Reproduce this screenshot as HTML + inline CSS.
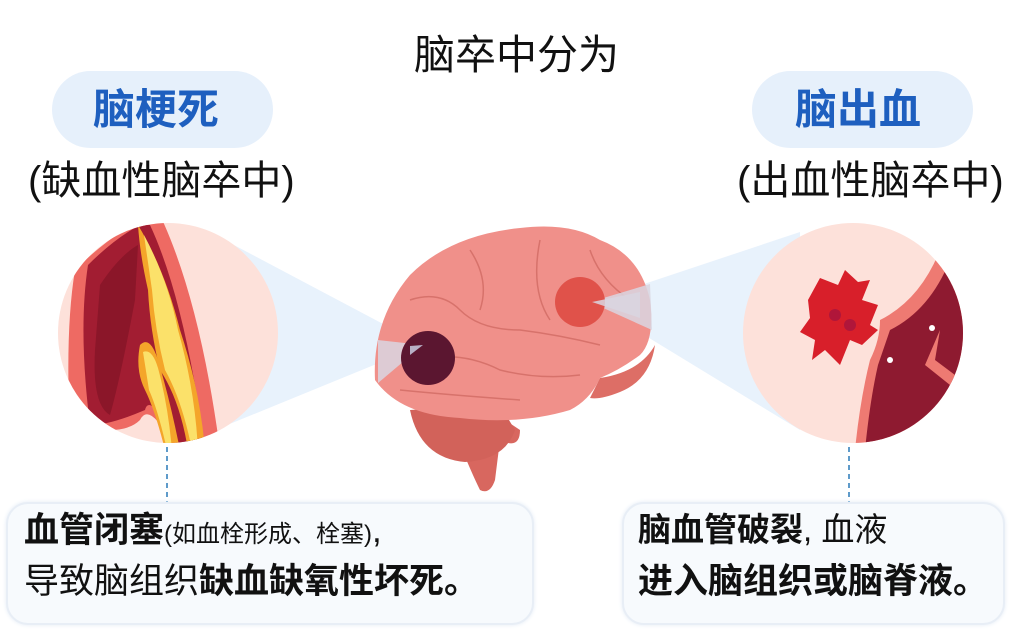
<!DOCTYPE html>
<html><head><meta charset="utf-8"><style>
html,body{margin:0;padding:0;background:#fff;}
body{width:1012px;height:636px;position:relative;overflow:hidden;font-family:"Liberation Sans","Noto Sans CJK SC",sans-serif;color:#111;}
.t{position:absolute;white-space:nowrap;line-height:1;}
.pill{position:absolute;background:#e6f0fb;border-radius:40px;}
.box{position:absolute;background:#f7fafd;border:2px solid #e8eef6;border-radius:22px;box-shadow:0 0 4px #e3ebf5;}
b{font-weight:700;}
</style></head><body>
<svg width="1012" height="636" style="position:absolute;left:0;top:0">
  <polygon points="215,235 423,345 215,430" fill="#e8f2fc"/>
  <polygon points="800,232 590,302 800,430" fill="#e8f2fc"/>
  <defs>
    <clipPath id="cl"><circle cx="168" cy="333" r="110"/></clipPath>
    <clipPath id="cr"><circle cx="853" cy="333" r="110"/></clipPath>
  </defs>
  <circle cx="168" cy="333" r="110" fill="#fde1da"/>
  <g clip-path="url(#cl)">
    <path d="M75,270 Q110,235 150,215 L160,215 Q200,300 220,450 L175,450 Q150,400 140,420 Q130,430 110,430 L70,430 Q65,330 75,270Z" fill="#ee6a63"/>
    <path d="M88,265 Q115,238 140,225 L150,225 Q185,300 205,450 L180,450 Q150,390 145,410 Q110,425 90,425 Q78,330 88,265Z" fill="#a21d32"/>
    <path d="M100,285 Q120,255 138,245 L135,300 Q120,380 110,415 Q92,405 95,350Z" fill="#8b1629"/>
    <path d="M138,225 Q165,270 180,330 Q200,390 205,450 L188,450 Q180,400 160,370 Q150,330 148,290 Q140,255 138,225Z" fill="#f4a52a"/>
    <path d="M144,235 Q168,280 178,330 Q195,390 198,450 L192,450 Q182,400 165,370 Q155,330 152,290Z" fill="#fbe16a"/>
    <path d="M140,345 Q150,335 158,360 Q170,400 180,450 L165,450 Q155,410 145,390 Q135,370 140,345Z" fill="#f4a52a"/>
    <path d="M143,352 Q152,348 158,368 Q168,405 172,450 L167,450 Q158,410 149,390Z" fill="#fbe16a"/>
  </g>
  <circle cx="853" cy="333" r="110" fill="#fde1da"/>
  <g clip-path="url(#cr)">
    <path d="M880,320 Q920,300 940,250 L970,250 L970,450 L855,450 Q860,400 870,360 Q880,340 880,320Z" fill="#ee7a72"/>
    <path d="M890,330 Q930,310 950,260 L970,260 L970,450 L865,450 Q870,400 878,365Z" fill="#8e1a30"/>
    <path d="M940,330 L935,360 L955,375 L970,360 L970,380 L950,385 L925,365Z" fill="#ee7a72"/>
  </g>
  <path d="M808,300 L820,278 L838,285 L845,270 L858,282 L870,280 L862,300 L878,305 L870,325 L878,330 L862,345 L850,340 L840,365 L825,350 L812,360 L815,340 L800,332 L810,318Z" fill="#d81f2a"/>
  <circle cx="835" cy="315" r="6" fill="#b0163a"/><circle cx="850" cy="325" r="6" fill="#b0163a"/>
  <circle cx="932" cy="328" r="3" fill="#fff"/><circle cx="890" cy="360" r="3" fill="#fff"/>
  <line x1="167" y1="447" x2="167" y2="502" stroke="#2a7ab8" stroke-width="1.5" stroke-dasharray="5,4"/>
  <line x1="849" y1="447" x2="849" y2="502" stroke="#2a7ab8" stroke-width="1.5" stroke-dasharray="5,4"/>
  <path d="M450,420 Q470,470 480,490 Q490,495 495,480 L500,440 Q520,450 520,430 L490,410Z" fill="#d8675f"/>
  <path d="M410,410 Q420,458 465,462 Q505,460 515,430 L500,405Z" fill="#d2625a"/>
  <path d="M375,380 Q372,320 410,275 Q450,235 520,228 Q570,222 600,240 Q640,255 650,300 Q655,340 640,355 Q620,370 600,378 Q590,400 570,410 Q520,425 460,418 Q400,415 375,380Z" fill="#f0908a"/>
  <path d="M600,378 Q640,372 655,345 Q650,380 620,392 Q600,400 590,398Z" fill="#dd6e66"/>
  <g fill="none" stroke="#d7726b" stroke-width="1.5">
    <path d="M410,300 Q440,290 460,310 Q480,330 520,330 Q560,335 600,345"/>
    <path d="M420,360 Q460,350 500,370 Q540,380 580,375"/>
    <path d="M470,250 Q490,280 480,310"/><path d="M540,240 Q530,290 550,320"/>
    <path d="M590,250 Q600,280 630,300"/><path d="M400,390 Q450,395 520,400"/>
  </g>
  <polygon points="378,340 423,345 378,383" fill="#d9d6e0" opacity="0.85"/>
  <circle cx="428" cy="358" r="27" fill="#5b1630"/>
  <polygon points="590,302 650,284 652,330" fill="#d9d6e0" opacity="0.85"/>
  <circle cx="580" cy="302" r="25" fill="#e0524a"/>
  <polygon points="592,302 640,292 640,318" fill="#d9d6e0" opacity="0.85"/>
  <polygon points="410,346 423,345 410,355" fill="#b8b0c6"/>
</svg>

<div class="t" style="left:414px;top:35px;font-size:41px;">脑卒中分为</div>
<div class="pill" style="left:52px;top:71px;width:221px;height:77px;"></div>
<div class="t" style="left:93px;top:89px;font-size:42px;font-weight:700;color:#1e5fbf;">脑梗死</div>
<div class="pill" style="left:752px;top:71px;width:221px;height:77px;"></div>
<div class="t" style="left:795px;top:89px;font-size:42px;font-weight:700;color:#1e5fbf;">脑出血</div>
<div class="t" style="left:28px;top:161px;font-size:40px;">(缺血性脑卒中)</div>
<div class="t" style="left:737px;top:161px;font-size:40px;">(出血性脑卒中)</div>

<div class="box" style="left:6px;top:502px;width:524px;height:119px;"></div>
<div class="t" style="left:24px;top:513px;font-size:35px;"><b>血管闭塞</b><span style="font-size:24px;">(如血栓形成、栓塞)</span>,</div>
<div class="t" style="left:24px;top:564px;font-size:35px;">导致脑组织<b>缺血缺氧性坏死。</b></div>

<div class="box" style="left:622px;top:502px;width:379px;height:119px;"></div>
<div class="t" style="left:638px;top:513px;font-size:33px;"><b>脑血管破裂</b>, 血液</div>
<div class="t" style="left:638px;top:564px;font-size:35px;"><b>进入脑组织或脑脊液。</b></div>
</body></html>
